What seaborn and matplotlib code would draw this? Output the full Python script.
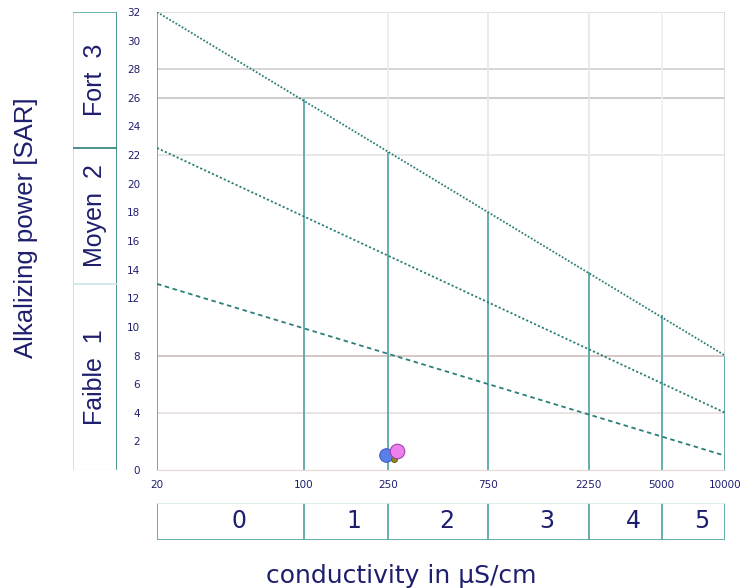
import numpy as np
import pandas as pd
import matplotlib
matplotlib.use('Agg')
import matplotlib.pyplot as plt
import seaborn as sns

# conductivity classes (uS/cm) and where each boundary meets the upper line (SAR)
cond_bounds = [20, 100, 250, 750, 2250, 5000, 10000]
bound_tops = [32, 25.9, 22.2, 18.0, 13.8, 10.8, 8]
cond_classes = ['0', '1', '2', '3', '4', '5']

# SAR classes on the left
sar_bounds = [0, 13, 22.5, 32]
sar_classes = ['Faible  1', 'Moyen  2', 'Fort  3']

# diagonal limit lines (start at 20, end at 10000)
limit_names = ['fort', 'moyen', 'faible']
limit_start = [32, 22.5, 13]
limit_end = [8, 4, 1]

# samples
sample_cond = [245, 266, 275]
sample_sar = [1.05, 0.8, 1.3]
sample_col = ['#5b7fe8', '#8c8a1e', '#ee80ee']
sample_edge = ['#4060c8', '#6a6a10', '#a040b0']
sample_size = [95, 18, 110]

# light background grid
grid_y = [32, 28, 26, 22, 8, 4]
grid_y_col = ['#dcdcdc', '#cfcfcf', '#c4c4c4', '#e4e4e4', '#d0bcbc', '#e8dede']
grid_x = [250, 750, 2250, 5000, 10000]
grid_x_col = ['#ebebeb', '#e6e6e6', '#e6e6e6', '#f0f0f0', '#d8d8d8']

navy = '#1e1e6e'
teal = '#5aa9a6'
dteal = '#2b7f78'

sns.set_style('white')
plt.rcParams['font.family'] = ['DejaVu Sans']

fig = plt.figure(figsize=(7.45, 5.88), dpi=100)
ax = fig.add_axes([157/745, 118/588, 568/745, 458/588])
ax.set_xscale('log')

for yv, c in zip(grid_y, grid_y_col):
    ax.axhline(yv, color=c, lw=1.2, zorder=0)
for xv, c in zip(grid_x, grid_x_col):
    ax.axvline(xv, color=c, lw=1.2, zorder=0)

# class boundaries up to the top line
ax.vlines(cond_bounds, 0, bound_tops, color=teal, lw=1.3, zorder=2)

styles = [(0, (1, 1)), (0, (1.2, 1.2)), (0, (2.5, 2))]
for name, s, e, ls in zip(limit_names, limit_start, limit_end, styles):
    d = pd.DataFrame({'cond': [cond_bounds[0], cond_bounds[-1]], 'sar': [s, e]})
    sns.lineplot(data=d, x='cond', y='sar', ax=ax, color=dteal, lw=1.3,
                 linestyle=ls, zorder=3)

for i in range(len(sample_cond)):
    sns.scatterplot(x=[sample_cond[i]], y=[sample_sar[i]], ax=ax, s=sample_size[i],
                    color=sample_col[i], edgecolor=sample_edge[i], linewidth=0.8,
                    zorder=5 + i)

ax.set_xlim(cond_bounds[0], cond_bounds[-1])
ax.set_ylim(0, 32)
ax.set_xticks(cond_bounds)
ax.set_xticklabels([str(v) for v in cond_bounds])
ax.xaxis.set_minor_locator(matplotlib.ticker.NullLocator())
ax.set_yticks(range(0, 33, 2))
ax.tick_params(axis='both', labelsize=7.5, labelcolor=navy, color='#e6a8a8',
               length=5, width=1)
ax.tick_params(axis='y', pad=7)
ax.tick_params(axis='x', pad=2)
ax.set_xlabel('')
ax.set_ylabel('')
for sp in ['top', 'right', 'left']:
    ax.spines[sp].set_visible(False)
ax.spines['bottom'].set_color('#e6d6d6')

# left SAR class panel
axl = fig.add_axes([73/745, 118/588, 44/745, 458/588])
axl.set_xlim(0, 1)
axl.set_ylim(0, 32)
axl.axis('off')
axl.vlines(0, 0, 32, color='#b8e0e0', lw=1.2)
axl.vlines(1, 0, 32, color=dteal, lw=1.2)
axl.hlines(32, 0, 1, color=teal, lw=1.2)
axl.hlines(sar_bounds[2], 0, 1, color=dteal, lw=1.2)
axl.hlines(sar_bounds[1], 0, 1, color='#c8e8e8', lw=1.2)
axl.hlines(0, 0, 1, color='#e4f4f4', lw=1.0)
for lo, hi, lab in zip(sar_bounds[:-1], sar_bounds[1:], sar_classes):
    axl.text(0.5, (lo + hi) / 2, lab, rotation=90, ha='center', va='center',
             fontsize=18, color=navy, family=['Liberation Sans', 'DejaVu Sans'])

# bottom conductivity class band
axb = fig.add_axes([157/745, 48/588, 568/745, 37/588])
axb.set_xscale('log')
axb.set_xlim(cond_bounds[0], cond_bounds[-1])
axb.set_ylim(0, 1)
axb.axis('off')
axb.vlines(cond_bounds, 0, 1, color=teal, lw=1.3)
axb.hlines(1, cond_bounds[0], cond_bounds[-1], color='#d4eeee', lw=1.2)
axb.hlines(0, cond_bounds[0], cond_bounds[-1], color=teal, lw=1.3)
for lo, hi, lab in zip(cond_bounds[:-1], cond_bounds[1:], cond_classes):
    axb.annotate(lab, (np.sqrt(lo * hi), 0.5), xytext=(6, 0), textcoords='offset points',
                 ha='center', va='center', fontsize=17, color=navy)

fig.text(401/745, 1 - 576/588, 'conductivity in µS/cm', ha='center', va='center',
         fontsize=18, color=navy)
fig.text(26/745, 1 - 228/588, 'Alkalizing power [SAR]', rotation=90, ha='center',
         va='center', fontsize=18.5, color=navy, family=['Liberation Sans', 'DejaVu Sans'])

fig.savefig('out.png', dpi=100)
